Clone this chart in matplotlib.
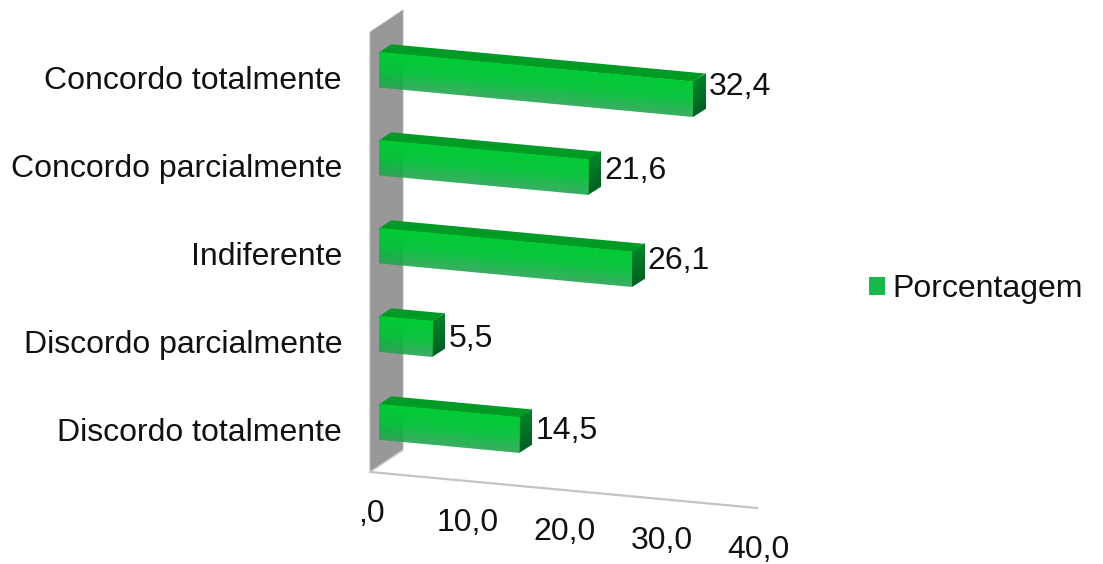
import numpy as np
import matplotlib
matplotlib.use("Agg")
import matplotlib.pyplot as plt
from matplotlib.patches import Patch, Rectangle
from matplotlib.transforms import Affine2D

categories = ["Concordo totalmente", "Concordo parcialmente", "Indiferente",
              "Discordo parcialmente", "Discordo totalmente"]
values = [32.4, 21.6, 26.1, 5.5, 14.5]
value_labels = ["32,4", "21,6", "26,1", "5,5", "14,5"]
axis_ticks = [0, 10, 20, 30, 40]
axis_tick_labels = [",0", "10,0", "20,0", "30,0", "40,0"]
series_name = "Porcentagem"

plt.rcParams["font.family"] = ["Liberation Sans", "DejaVu Sans"]
TEXT = "#111111"
FONT = 23

# oblique view: value runs right and slightly down, depth runs up and to the right
X0, Y0 = 370, 32
VX, VY = 9.68, 0.9
DX, DY = 33, -22
ROW = 88
BAR_D0, BAR_D1 = 0.27, 0.64
BAR_S0, BAR_S1 = 0.3, 0.7


def front_plane(depth):
    # (value, row) at a fixed depth
    return Affine2D.from_values(VX, VY, 0, ROW, X0 + DX * depth, Y0 + DY * depth)


def side_plane(value):
    # (depth, row) at a fixed value
    return Affine2D.from_values(DX, DY, 0, ROW, X0 + VX * value, Y0 + VY * value)


def top_plane(row):
    # (value, depth) at a fixed row
    return Affine2D.from_values(VX, VY, DX, DY, X0, Y0 + ROW * row)


def vgrad(stops):
    # vertical RGBA gradient, drawn through imshow
    t = np.linspace(0, 1, 32)
    pos = np.linspace(0, 1, len(stops))
    img = np.stack([np.interp(t, pos, [c[k] for c in stops]) for k in range(4)], axis=-1)
    return np.repeat(img[:, None, :], 2, axis=1)


fig = plt.figure(figsize=(11.03, 5.64), dpi=100)
ax = fig.add_axes([0, 0, 1, 1])

# back wall and floor edges
ax.add_patch(Rectangle((0, 0), 1, 5, transform=side_plane(0) + ax.transData,
                       facecolor="#989898", edgecolor="#b4b4b4", linewidth=0.6, zorder=1))
pts = top_plane(5).transform([(0, 0), (40, 0), (0, 1)])
ax.plot(pts[[0, 1], 0], pts[[0, 1], 1], color="#c4c4c4", lw=1.6, zorder=1)
ax.plot(pts[[0, 2], 0], pts[[0, 2], 1], color="#cccccc", lw=1.0, zorder=1)

for i, v in enumerate(values):
    s0, s1 = i + BAR_S0, i + BAR_S1
    ax.add_patch(Rectangle((0, BAR_D0), v, BAR_D1 - BAR_D0,
                           transform=top_plane(s0) + ax.transData,
                           facecolor="#009b25", edgecolor="none", zorder=2))
    ax.imshow(vgrad([(0, 0.52, 0.16, 1), (0, 0.38, 0.13, 1)]),
              extent=(BAR_D0, BAR_D1, s1, s0), aspect="auto", interpolation="bilinear",
              transform=side_plane(v) + ax.transData, zorder=2)
    ax.imshow(vgrad([(0.0, 0.8, 0.2, 1), (0.02, 0.76, 0.23, 0.97), (0.12, 0.64, 0.3, 0.88)]),
              extent=(0, v, s1, s0), aspect="auto", interpolation="bilinear",
              transform=front_plane(BAR_D0) + ax.transData, zorder=3)

    # value labels drift down less steeply than the bars do
    x = X0 + VX * v + DX * BAR_D1 + 4
    y = 73 + ROW * i + 0.447 * v
    ax.text(x, y, value_labels[i], fontsize=FONT, color=TEXT, ha="left", va="center", zorder=4)

    ax.text(342, Y0 + ROW * (i + 0.5) + 5, categories[i], fontsize=FONT, color=TEXT,
            ha="right", va="center")

for t, lab in zip(axis_ticks, axis_tick_labels):
    x, y = top_plane(5).transform((t, 0))
    ax.text(x + 1, y + 42, lab, fontsize=FONT, color=TEXT, ha="center", va="center")

handle = Patch(facecolor="#16b94a", edgecolor="none", label=series_name)
ax.legend(handles=[handle], loc="center left", bbox_to_anchor=(840 / 1103, 1 - 289 / 564),
          frameon=False, fontsize=FONT, handlelength=0.5, handleheight=0.5,
          handletextpad=0.25, labelcolor=TEXT)

ax.set_xlim(0, 1103)
ax.set_ylim(564, 0)
ax.axis("off")

fig.savefig("out.png", dpi=100)
